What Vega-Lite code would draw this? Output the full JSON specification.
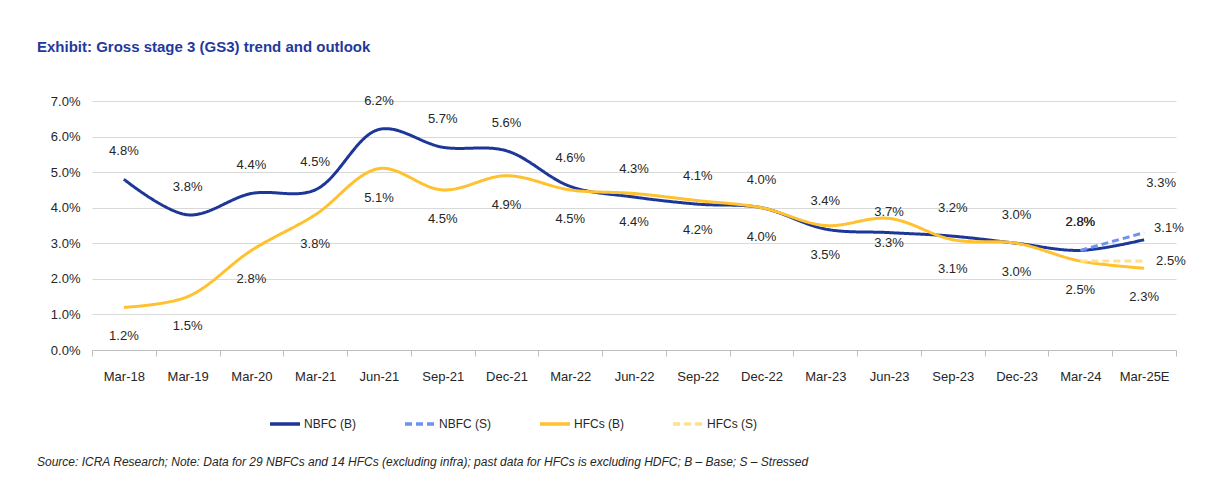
{
  "$schema": "https://vega.github.io/schema/vega-lite/v6.json",
  "padding": {"left": 37, "top": 40, "right": 20, "bottom": 8},
  "background": "white",
  "title": {
    "text": "Source: ICRA Research; Note: Data for 29 NBFCs and 14 HFCs (excluding infra); past data for HFCs is excluding HDFC;  B – Base; S – Stressed",
    "orient": "bottom", "anchor": "start", "frame": "bounds",
    "fontSize": 12, "fontStyle": "italic", "fontWeight": "normal", "color": "#262626",
    "font": "Liberation Sans", "offset": 26
  },
  "vconcat": [
    {
      "title": {
        "text": "Exhibit: Gross stage 3 (GS3) trend and outlook",
        "anchor": "start", "frame": "bounds", "fontSize": 15, "fontWeight": "bold",
        "color": "#1F3A9C", "font": "Liberation Sans", "offset": 40
      },
      "width": 1084,
      "height": 249,
      "data": {
        "values": [
          {"period": "Mar-18", "series": "NBFC (B)", "value": 0.048},
          {"period": "Mar-19", "series": "NBFC (B)", "value": 0.038},
          {"period": "Mar-20", "series": "NBFC (B)", "value": 0.044},
          {"period": "Mar-21", "series": "NBFC (B)", "value": 0.045},
          {"period": "Jun-21", "series": "NBFC (B)", "value": 0.062},
          {"period": "Sep-21", "series": "NBFC (B)", "value": 0.057},
          {"period": "Dec-21", "series": "NBFC (B)", "value": 0.056},
          {"period": "Mar-22", "series": "NBFC (B)", "value": 0.046},
          {"period": "Jun-22", "series": "NBFC (B)", "value": 0.043},
          {"period": "Sep-22", "series": "NBFC (B)", "value": 0.041},
          {"period": "Dec-22", "series": "NBFC (B)", "value": 0.040},
          {"period": "Mar-23", "series": "NBFC (B)", "value": 0.034},
          {"period": "Jun-23", "series": "NBFC (B)", "value": 0.033},
          {"period": "Sep-23", "series": "NBFC (B)", "value": 0.032},
          {"period": "Dec-23", "series": "NBFC (B)", "value": 0.030},
          {"period": "Mar-24", "series": "NBFC (B)", "value": 0.028},
          {"period": "Mar-25E", "series": "NBFC (B)", "value": 0.031},
          {"period": "Mar-24", "series": "NBFC (S)", "value": 0.028},
          {"period": "Mar-25E", "series": "NBFC (S)", "value": 0.033},
          {"period": "Mar-18", "series": "HFCs (B)", "value": 0.012},
          {"period": "Mar-19", "series": "HFCs (B)", "value": 0.015},
          {"period": "Mar-20", "series": "HFCs (B)", "value": 0.028},
          {"period": "Mar-21", "series": "HFCs (B)", "value": 0.038},
          {"period": "Jun-21", "series": "HFCs (B)", "value": 0.051},
          {"period": "Sep-21", "series": "HFCs (B)", "value": 0.045},
          {"period": "Dec-21", "series": "HFCs (B)", "value": 0.049},
          {"period": "Mar-22", "series": "HFCs (B)", "value": 0.045},
          {"period": "Jun-22", "series": "HFCs (B)", "value": 0.044},
          {"period": "Sep-22", "series": "HFCs (B)", "value": 0.042},
          {"period": "Dec-22", "series": "HFCs (B)", "value": 0.040},
          {"period": "Mar-23", "series": "HFCs (B)", "value": 0.035},
          {"period": "Jun-23", "series": "HFCs (B)", "value": 0.037},
          {"period": "Sep-23", "series": "HFCs (B)", "value": 0.031},
          {"period": "Dec-23", "series": "HFCs (B)", "value": 0.030},
          {"period": "Mar-24", "series": "HFCs (B)", "value": 0.025},
          {"period": "Mar-25E", "series": "HFCs (B)", "value": 0.023},
          {"period": "Mar-24", "series": "HFCs (S)", "value": 0.025},
          {"period": "Mar-25E", "series": "HFCs (S)", "value": 0.025}
        ]
      },
      "encoding": {
        "x": {
          "field": "period", "type": "ordinal", "bandPosition": 0.5,
          "sort": ["Mar-18","Mar-19","Mar-20","Mar-21","Jun-21","Sep-21","Dec-21","Mar-22","Jun-22","Sep-22","Dec-22","Mar-23","Jun-23","Sep-23","Dec-23","Mar-24","Mar-25E"],
          "scale": {"type": "band", "paddingInner": 0, "paddingOuter": 0},
          "axis": {
            "title": null, "labelAngle": 0, "tickBand": "extent", "grid": false,
            "domainColor": "#bfbfbf", "tickColor": "#bfbfbf", "tickSize": 6,
            "labelPadding": 14, "labelFontSize": 13, "labelColor": "#262626",
            "labelFont": "Liberation Sans"
          }
        },
        "y": {
          "field": "value", "type": "quantitative",
          "scale": {"domain": [0, 0.07], "nice": false},
          "axis": {
            "title": null, "values": [0, 0.01, 0.02, 0.03, 0.04, 0.05, 0.06, 0.07], "domain": false, "ticks": false,
            "gridColor": "#d9d9d9", "gridWidth": 1.2, "format": ".1%",
            "labelPadding": 12, "minExtent": 55, "labelFontSize": 13, "labelColor": "#262626",
            "labelFont": "Liberation Sans"
          }
        }
      },
      "layer": [
        {
          "mark": {"type": "line", "interpolate": "catmull-rom", "strokeWidth": 3},
          "encoding": {
            "color": {
              "field": "series", "type": "nominal",
              "scale": {"domain": ["NBFC (B)", "NBFC (S)", "HFCs (B)", "HFCs (S)"], "range": ["#1C3797", "#6F92F2", "#FFC12E", "#FFE18C"]},
              "legend": {"title": null, "orient": "none", "legendX": 176, "legendY": 306, "direction": "horizontal"}
            },
            "strokeDash": {
              "field": "series", "type": "nominal",
              "scale": {"domain": ["NBFC (B)", "NBFC (S)", "HFCs (B)", "HFCs (S)"], "range": [[1, 0], [7, 4], [1, 0], [7, 4]]},
              "legend": {"title": null, "orient": "none", "legendX": 176, "legendY": 306, "direction": "horizontal"}
            }
          }
        },
        {
          "transform": [{"filter": "(datum.series == 'NBFC (B)' && datum.period != 'Jun-23' && datum.period != 'Mar-25E') || (datum.series == 'NBFC (S)' && datum.period == 'Mar-24')"}],
          "mark": {"type": "text", "dy": -28, "fontSize": 13, "color": "#262626", "font": "Liberation Sans"},
          "encoding": {"text": {"field": "value", "type": "quantitative", "format": ".1%"}}
        },
        {
          "transform": [{"filter": "datum.series == 'HFCs (B)' && datum.period != 'Jun-23'"}],
          "mark": {"type": "text", "dy": 29, "fontSize": 13, "color": "#262626", "font": "Liberation Sans"},
          "encoding": {"text": {"field": "value", "type": "quantitative", "format": ".1%"}}
        },
        {
          "transform": [{"filter": "datum.series == 'HFCs (B)' && datum.period == 'Jun-23'"}],
          "mark": {"type": "text", "dy": -6, "fontSize": 13, "color": "#262626", "font": "Liberation Sans"},
          "encoding": {"text": {"field": "value", "type": "quantitative", "format": ".1%"}}
        },
        {
          "transform": [{"filter": "datum.series == 'NBFC (B)' && datum.period == 'Jun-23'"}],
          "mark": {"type": "text", "dy": 10, "fontSize": 13, "color": "#262626", "font": "Liberation Sans"},
          "encoding": {"text": {"field": "value", "type": "quantitative", "format": ".1%"}}
        },
        {
          "transform": [{"filter": "datum.series == 'NBFC (B)' && datum.period == 'Mar-25E'"}],
          "mark": {"type": "text", "align": "left", "dx": 10, "dy": -12, "fontSize": 13, "color": "#262626", "font": "Liberation Sans"},
          "encoding": {"text": {"field": "value", "type": "quantitative", "format": ".1%"}}
        },
        {
          "transform": [{"filter": "datum.series == 'NBFC (S)' && datum.period == 'Mar-25E'"}],
          "mark": {"type": "text", "dx": 17, "dy": -50, "fontSize": 13, "color": "#262626", "font": "Liberation Sans"},
          "encoding": {"text": {"field": "value", "type": "quantitative", "format": ".1%"}}
        },
        {
          "transform": [{"filter": "datum.series == 'HFCs (S)' && datum.period == 'Mar-25E'"}],
          "mark": {"type": "text", "align": "left", "dx": 12, "dy": 0, "fontSize": 13, "color": "#262626", "font": "Liberation Sans"},
          "encoding": {"text": {"field": "value", "type": "quantitative", "format": ".1%"}}
        }
      ]
    }
  ],
  "config": {
    "view": {"stroke": null},
    "legend": {
      "symbolType": "stroke",
      "symbolSize": 900, "symbolStrokeWidth": 3.5, "columnPadding": 42,
      "labelFontSize": 12, "labelColor": "#262626", "labelOffset": 2,
      "labelFont": "Liberation Sans"
    }
  }
}
